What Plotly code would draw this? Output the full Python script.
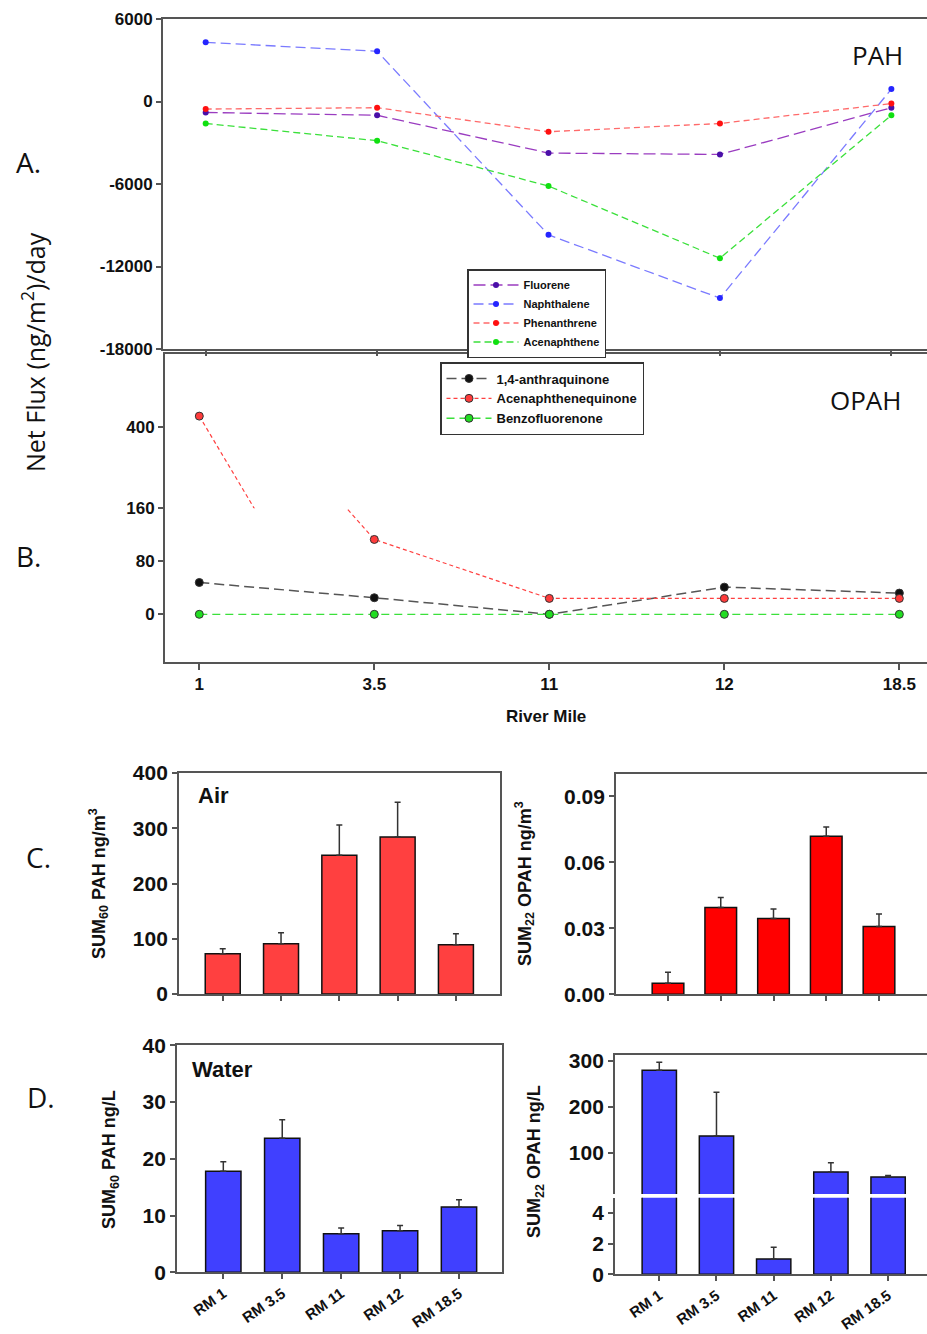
import plotly.graph_objects as go

W, H = 927, 1334

# ---------------- data ----------------
river_miles = ["1", "3.5", "11", "12", "18.5"]
fluorene = [-800, -1000, -3750, -3850, -450]
naphthalene = [4300, 3650, -9700, -14300, 900]
phenanthrene = [-550, -450, -2200, -1600, -150]
acenaphthene = [-1600, -2850, -6150, -11400, -1000]

anthraquinone = [48, 25, 0, 41, 32]
acenaphthenequinone = [411, 113, 24, 24, 24]
benzofluorenone = [0, 0, 0, 0, 0]

sites = ["RM 1", "RM 3.5", "RM 11", "RM 12", "RM 18.5"]
air_pah = [73, 91, 251, 284, 89]
air_pah_err = [9, 20, 55, 63, 20]
air_opah = [0.005, 0.0395, 0.0345, 0.0718, 0.0308]
air_opah_err = [0.005, 0.0045, 0.0043, 0.0043, 0.0057]
water_pah = [17.8, 23.6, 6.8, 7.3, 11.5]
water_pah_err = [1.7, 3.3, 1.0, 0.95, 1.3]
water_opah = [279, 136, 1.0, 58, 47]
water_opah_err = [17, 95, 0.77, 20, 3]

# ---------------- helpers ----------------
def fx(p):
    return p / W

def fy(p):
    return 1 - p / H

AX = "#555555"
TICKFONT = dict(family="Liberation Sans, Arial", size=17, color="#111", weight="bold")

fig = go.Figure()

# ---------- Panel A ----------
a_specs = [
    ("Fluorene", fluorene, "#9a3cc0", "#4a0fa8", "12px,5px"),
    ("Naphthalene", naphthalene, "#7a7aff", "#2525ff", "10px,5px"),
    ("Phenanthrene", phenanthrene, "#ff6a6a", "#ff1010", "6px,4px"),
    ("Acenaphthene", acenaphthene, "#3be03b", "#10e010", "7px,4px"),
]
for name, vals, lc, mc, dash in a_specs:
    fig.add_trace(go.Scatter(
        x=river_miles, y=vals, name=name, mode="lines+markers",
        line=dict(color=lc, width=1.3, dash=dash),
        marker=dict(color=mc, size=6),
        xaxis="x", yaxis="y", legend="legend"))

# ---------- Panel B (broken axis: upper + lower) ----------
b_specs = [
    ("1,4-anthraquinone", anthraquinone, "#555555", "#111111", "10px,5px", 1.5),
    ("Acenaphthenequinone", acenaphthenequinone, "#ff4040", "#ff3b3b", "4px,3px", 1.2),
    ("Benzofluorenone", benzofluorenone, "#3be03b", "#22dd22", "8px,5px", 1.3),
]
for name, vals, lc, mc, dash, lw in b_specs:
    for xa, ya, show in (("x2", "y2", False), ("x3", "y3", True)):
        fig.add_trace(go.Scatter(
            x=river_miles, y=vals, name=name, mode="lines+markers",
            line=dict(color=lc, width=lw, dash=dash),
            marker=dict(color=mc, size=8, line=dict(color="#333", width=1)),
            xaxis=xa, yaxis=ya, legend="legend2", showlegend=show))

# ---------- bar panels ----------
def bars(x, y, err, color, xa, ya):
    fig.add_trace(go.Bar(
        x=x, y=y, width=0.6, marker=dict(color=color, line=dict(color="#111", width=1.5)),
        error_y=dict(type="data", array=err, arrayminus=[0] * len(err), symmetric=False,
                     color="#333", thickness=1.5, width=3),
        xaxis=xa, yaxis=ya, showlegend=False))

bars(sites, air_pah, air_pah_err, "#ff4040", "x4", "y4")
bars(sites, air_opah, air_opah_err, "#ff0000", "x5", "y5")
bars(sites, water_pah, water_pah_err, "#4040ff", "x6", "y6")
bars(sites, water_opah, water_opah_err, "#4040ff", "x7", "y7")
bars(sites, water_opah, water_opah_err, "#4040ff", "x8", "y8")

# ---------------- axes ----------------
def xax(dom, rng, anchor, **kw):
    d = dict(domain=[fx(dom[0]), fx(dom[1])], range=rng, anchor=anchor, type="category",
             showline=True, linecolor=AX, linewidth=1.8, ticks="outside", ticklen=5,
             tickwidth=1.5, tickcolor=AX, showgrid=False, zeroline=False, tickfont=TICKFONT,
             fixedrange=True, automargin=False)
    d.update(kw)
    return d

def yax(dom, rng, anchor, **kw):
    d = dict(domain=[fy(dom[1]), fy(dom[0])], range=rng, anchor=anchor,
             showline=True, linecolor=AX, linewidth=1.8, ticks="outside", ticklen=5,
             tickwidth=1.5, tickcolor=AX, showgrid=False, zeroline=False, tickfont=TICKFONT,
             fixedrange=True, automargin=False)
    d.update(kw)
    return d

layout = dict(
    width=W, height=H, margin=dict(l=0, r=0, t=0, b=0, pad=0, autoexpand=False),
    paper_bgcolor="white", plot_bgcolor="white",
    font=dict(family="Liberation Sans, Arial", color="#111"),
    bargap=0.4,
)

# Panel A
layout["xaxis"] = xax((163, 927), [-0.249, 4.208], "y", showticklabels=False, mirror=True)
layout["yaxis"] = yax((19, 349), [-18000, 6000], "x",
                      tickvals=[6000, 0, -6000, -12000, -18000],
                      ticktext=["6000", "0", "-6000", "-12000", "-18000"])
# Panel B upper (above the axis break)
layout["xaxis2"] = xax((165, 927), [-0.196, 4.158], "y2", side="top", ticks="",
                       showticklabels=False)
layout["yaxis2"] = yax((354, 508.3), [317.5, 474], "x2", tickvals=[400], ticktext=["400"])
# Panel B lower
layout["xaxis3"] = xax((165, 927), [-0.196, 4.158], "y3", ticklen=6)
layout["yaxis3"] = yax((508.3, 662), [-72, 160], "x3", tickvals=[0, 80, 160],
                       ticktext=["0", "80", "160"])
# C left
BIG = dict(family="Liberation Sans, Arial", size=21, color="#111", weight="bold")
layout["xaxis4"] = xax((179, 500), [-0.75, 4.756], "y4", showticklabels=False, mirror=True)
layout["yaxis4"] = yax((773, 994), [0, 400], "x4", tickvals=[0, 100, 200, 300, 400],
                       tickfont=BIG, mirror=True)
# C right
layout["xaxis5"] = xax((616, 927), [-0.986, 4.91], "y5", showticklabels=False, mirror=True)
layout["yaxis5"] = yax((774.3, 994.3), [0, 0.1], "x5", tickvals=[0, 0.03, 0.06, 0.09],
                       ticktext=["0.00", "0.03", "0.06", "0.09"], tickfont=BIG)
# D left
ROT = dict(family="Liberation Sans, Arial", size=15, color="#111", weight="bold")
layout["xaxis6"] = xax((177, 502), [-0.786, 4.73], "y6", tickangle=-35, tickfont=ROT,
                       mirror=True)
layout["yaxis6"] = yax((1045.3, 1272.3), [0, 40], "x6", tickvals=[0, 10, 20, 30, 40],
                       tickfont=BIG, mirror=True)
# D right upper
layout["xaxis7"] = xax((615, 927), [-0.774, 4.68], "y7", side="top", ticks="",
                       showticklabels=False)
layout["yaxis7"] = yax((1055, 1194), [10, 312], "x7", tickvals=[100, 200, 300], tickfont=BIG)
# D right lower
layout["xaxis8"] = xax((615, 927), [-0.774, 4.68], "y8", tickangle=-35, tickfont=ROT)
layout["yaxis8"] = yax((1197.7, 1274.3), [0, 5.0], "x8", tickvals=[0, 2, 4], tickfont=BIG)

# legends
layout["legend"] = dict(
    x=fx(467), y=fy(269), xanchor="left", yanchor="top", bgcolor="white",
    bordercolor="#333", borderwidth=1.5,
    font=dict(family="Liberation Sans, Arial", size=11, color="#111", weight="bold"),
    tracegroupgap=0, itemwidth=45)
layout["legend2"] = dict(
    x=fx(440), y=fy(362), xanchor="left", yanchor="top", bgcolor="white",
    bordercolor="#333", borderwidth=1.5,
    font=dict(family="Liberation Sans, Arial", size=13, color="#111", weight="bold"),
    tracegroupgap=0, itemwidth=45)

fig.update_layout(**layout)

# ---------------- annotations ----------------
def ann(text, x, y, size, angle=0, family="Open Sans", weight="normal", **kw):
    fig.add_annotation(text=text, x=fx(x), y=fy(y), xref="paper", yref="paper",
                       xanchor="center", yanchor="middle",
                       showarrow=False, textangle=angle,
                       font=dict(family=family, size=size, color="#111", weight=weight), **kw)

ann("A.", 28, 162, 28)
ann("B.", 28, 556, 28)
ann("C.", 38, 857, 28)
ann("D.", 41, 1097, 28)
ann("PAH", 877, 55, 26)
ann("OPAH", 865, 400, 26)
ann("Net Flux (ng/m<sup>2</sup>)/day", 33, 352, 25, angle=-90)
ann("River Mile", 546, 716, 17, family="Liberation Sans, Arial", weight="bold")
ann("Air", 213, 796, 22, family="Liberation Sans, Arial", weight="bold")
ann("Water", 222, 1069, 22, family="Liberation Sans, Arial", weight="bold")
ann("SUM<sub>60</sub> PAH ng/m<sup>3</sup>", 98, 884, 18, angle=-90,
    family="Liberation Sans, Arial", weight="bold")
ann("SUM<sub>22</sub> OPAH ng/m<sup>3</sup>", 524, 884, 18, angle=-90,
    family="Liberation Sans, Arial", weight="bold")
ann("SUM<sub>60</sub> PAH ng/L", 110, 1160, 18, angle=-90,
    family="Liberation Sans, Arial", weight="bold")
ann("SUM<sub>22</sub> OPAH ng/L", 535, 1162, 18, angle=-90,
    family="Liberation Sans, Arial", weight="bold")

fig.write_html("out.html", config={"displayModeBar": False},
               post_script="document.body.style.margin='0';")
